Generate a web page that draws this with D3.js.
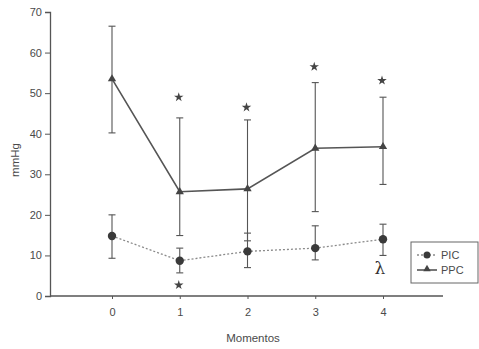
<!DOCTYPE html>
<html><head><meta charset="utf-8">
<script src="https://cdn.jsdelivr.net/npm/d3@7"></script>
<style>body{margin:0;background:#fff}svg{display:block}text{font-family:"Liberation Sans",Arial,sans-serif}</style>
</head><body>
<script>
const moments = [0, 1, 2, 3, 4];
const yTicks = [0, 10, 20, 30, 40, 50, 60, 70];
const ppcMean = [53.5, 25.7, 26.4, 36.4, 36.8];
const ppcUpper = [66.5, 43.9, 43.4, 52.6, 49.0];
const ppcLower = [40.2, 14.9, 13.6, 20.8, 27.5];
const picMean = [14.8, 8.7, 11.0, 11.8, 14.0];
const picUpper = [20.0, 11.8, 15.5, 17.3, 17.7];
const picLower = [9.3, 5.7, 7.0, 8.9, 10.0];
// significance marks: [moment, level in mmHg]
const stars = [[1, 49.0], [2, 46.5], [3, 56.5], [4, 53.1], [1, 2.7]];
const lambdaMark = [4, 5.3];

const W = 479, H = 349;
const svg = d3.select("body").append("svg").attr("width", W).attr("height", H);
const ink = "#555", txt = "#4a4a4a";

const x = d3.scaleLinear().domain([0, 4]).range([112, 383]);
const y = d3.scaleLinear().domain([0, 70]).range([296, 12]);
const xAxisEnd = 443, yAxisX = 50;

// Y axis
const yAxis = d3.axisLeft(y).tickValues(yTicks).tickFormat(d3.format("d")).tickSize(5).tickPadding(3);
const gy = svg.append("g").attr("transform", `translate(${yAxisX},0)`).call(yAxis);
gy.select(".domain").attr("stroke", ink).attr("stroke-width", 1.3);
gy.selectAll(".tick line").attr("stroke", ink);
gy.selectAll(".tick text").attr("fill", txt).style("font-size", "11px");

// X axis
const xAxis = d3.axisBottom(x).tickValues(moments).tickFormat(d3.format("d")).tickSize(3).tickPadding(9).tickSizeOuter(0);
const gx = svg.append("g").attr("transform", `translate(0,${y(0)})`).call(xAxis);
gx.select(".domain").attr("d", `M${yAxisX},0H${xAxisEnd}`).attr("stroke", ink).attr("stroke-width", 1.3);
gx.selectAll(".tick line").attr("stroke", ink);
gx.selectAll(".tick text").attr("fill", txt).style("font-size", "11px");

svg.append("text").attr("x", 253).attr("y", 342).attr("text-anchor", "middle")
  .attr("fill", txt).style("font-size", "11.5px").text("Momentos");
svg.append("text").attr("transform", `translate(19,${160}) rotate(-90)`).attr("text-anchor", "middle")
  .attr("fill", txt).style("font-size", "11.5px").text("mmHg");

function errBars(mean, up, lo) {
  const g = svg.append("g").attr("stroke", ink).attr("stroke-width", 1.1);
  moments.forEach((m, i) => {
    g.append("line").attr("x1", x(m)).attr("x2", x(m)).attr("y1", y(up[i])).attr("y2", y(lo[i]));
    [up[i], lo[i]].forEach(v => g.append("line").attr("x1", x(m) - 3.5).attr("x2", x(m) + 3.5).attr("y1", y(v)).attr("y2", y(v)));
  });
}
errBars(ppcMean, ppcUpper, ppcLower);
errBars(picMean, picUpper, picLower);

const line = d3.line().x((d, i) => x(moments[i])).y(d => y(d));
svg.append("path").datum(picMean).attr("d", line).attr("fill", "none")
  .attr("stroke", "#8a8a8a").attr("stroke-width", 1.3).attr("stroke-dasharray", "2,2");
svg.append("path").datum(ppcMean).attr("d", line).attr("fill", "none")
  .attr("stroke", ink).attr("stroke-width", 1.6);

const tri = d3.symbol().type(d3.symbolTriangle).size(30);
svg.selectAll(".ppc").data(ppcMean).enter().append("path")
  .attr("transform", (d, i) => `translate(${x(moments[i])},${y(d)})`).attr("d", tri).attr("fill", "#444");
svg.selectAll(".pic").data(picMean).enter().append("circle")
  .attr("cx", (d, i) => x(moments[i])).attr("cy", d => y(d)).attr("r", 4.2).attr("fill", "#3a3a3a");

const star = d3.symbol().type(d3.symbolStar).size(28);
svg.selectAll(".star").data(stars).enter().append("path")
  .attr("transform", d => `translate(${x(d[0]) - 1},${y(d[1])})`).attr("d", star).attr("fill", "#444");
svg.append("text").attr("x", x(lambdaMark[0]) - 3).attr("y", y(lambdaMark[1])).attr("text-anchor", "middle")
  .attr("fill", "#333").style("font-family", "'DejaVu Serif',serif").style("font-size", "17px").text("λ");

// Legend
const lg = svg.append("g");
lg.append("rect").attr("x", 411).attr("y", 242).attr("width", 67).attr("height", 41)
  .attr("fill", "#fff").attr("stroke", "#666").attr("stroke-width", 1);
lg.append("line").attr("x1", 417).attr("x2", 437).attr("y1", 255).attr("y2", 255)
  .attr("stroke", "#8a8a8a").attr("stroke-width", 1.3).attr("stroke-dasharray", "2,2");
lg.append("circle").attr("cx", 427).attr("cy", 255).attr("r", 3.5).attr("fill", "#3a3a3a");
lg.append("line").attr("x1", 417).attr("x2", 437).attr("y1", 270).attr("y2", 270).attr("stroke", ink).attr("stroke-width", 1.6);
lg.append("path").attr("transform", "translate(427,269)").attr("d", d3.symbol().type(d3.symbolTriangle).size(24)).attr("fill", "#444");
lg.append("text").attr("x", 441).attr("y", 259).attr("fill", txt).style("font-size", "11px").text("PIC");
lg.append("text").attr("x", 441).attr("y", 274).attr("fill", txt).style("font-size", "11px").text("PPC");
</script>
</body></html>
